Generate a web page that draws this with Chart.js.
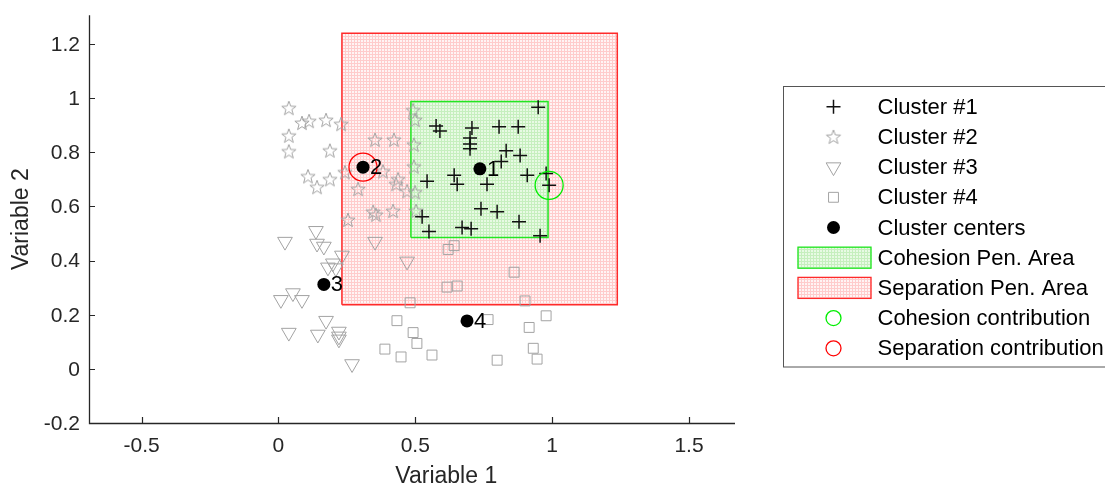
<!DOCTYPE html>
<html>
<head>
<meta charset="utf-8">
<title>Cluster penalties</title>
<script src="https://cdn.jsdelivr.net/npm/chart.js@4.4.1/dist/chart.umd.min.js"></script>
<style>
  html, body { margin: 0; padding: 0; background: #fff; }
  #wrap { width: 1105px; height: 490px; }
</style>
</head>
<body>
<div id="wrap"><canvas id="clusterChart" width="1105" height="490"></canvas></div>
<script>
// values
const cluster1X = [0.949, 0.576, 0.590, 0.707, 0.806, 0.876, 0.700, 0.700, 0.700, 0.832, 0.883, 0.814, 0.642, 0.653,
  0.543, 0.762, 0.909, 0.978, 0.989, 0.740, 0.799, 0.525, 0.550, 0.671, 0.704, 0.879, 0.956];
const cluster1Y = [0.966, 0.897, 0.879, 0.890, 0.894, 0.894, 0.853, 0.831, 0.813, 0.806, 0.788, 0.766, 0.715, 0.682,
  0.693, 0.682, 0.715, 0.722, 0.678, 0.591, 0.580, 0.562, 0.507, 0.522, 0.518, 0.543, 0.492];

const cluster2X = [0.038, 0.086, 0.112, 0.174, 0.229, 0.038, 0.038, 0.188, 0.353, 0.422, 0.492, 0.499, 0.495, 0.108,
  0.141, 0.188, 0.243, 0.291, 0.382, 0.437, 0.430, 0.470, 0.499, 0.495, 0.346, 0.356, 0.419, 0.254, 0.503];
const cluster2Y = [0.963, 0.908, 0.915, 0.919, 0.904, 0.861, 0.803, 0.806, 0.846, 0.846, 0.955, 0.919, 0.828, 0.711,
  0.671, 0.700, 0.726, 0.664, 0.729, 0.700, 0.682, 0.656, 0.652, 0.747, 0.580, 0.569, 0.583, 0.550, 0.583];

const cluster3X = [0.024, 0.137, 0.141, 0.166, 0.232, 0.199, 0.181, 0.210, 0.353, 0.470, 0.009, 0.053, 0.086, 0.174,
  0.038, 0.144, 0.221, 0.221, 0.221, 0.269];
const cluster3Y = [0.470, 0.510, 0.463, 0.452, 0.419, 0.390, 0.375, 0.372, 0.470, 0.397, 0.255, 0.280, 0.255, 0.178,
  0.134, 0.127, 0.138, 0.120, 0.109, 0.018];

const cluster4X = [0.642, 0.620, 0.861, 0.616, 0.653, 0.481, 0.901, 0.433, 0.766, 0.978, 0.916, 0.492, 0.506, 0.389,
  0.448, 0.561, 0.931, 0.945, 0.799];
const cluster4Y = [0.455, 0.441, 0.357, 0.302, 0.306, 0.244, 0.251, 0.178, 0.182, 0.196, 0.153, 0.134, 0.094, 0.073,
  0.044, 0.051, 0.076, 0.036, 0.032];

const centerX = [0.736, 0.309, 0.166, 0.689];
const centerY = [0.739, 0.745, 0.312, 0.177];
const centerNames = ['1', '2', '3', '4'];

const cohesionAreaX = [0.484, 0.985];
const cohesionAreaY = [0.485, 0.988];
const separationAreaX = [0.232, 1.238];
const separationAreaY = [0.237, 1.240];

const cohesionPointX = [0.989];
const cohesionPointY = [0.678];
const separationPointX = [0.309];
const separationPointY = [0.745];

const xTickValues = [-0.5, 0, 0.5, 1, 1.5];
const xTickLabels = ['-0.5', '0', '0.5', '1', '1.5'];
const yTickValues = [-0.2, 0, 0.2, 0.4, 0.6, 0.8, 1, 1.2];
const yTickLabels = ['-0.2', '0', '0.2', '0.4', '0.6', '0.8', '1', '1.2'];

const legendNames = ['Cluster #1', 'Cluster #2', 'Cluster #3', 'Cluster #4', 'Cluster centers',
  'Cohesion Pen. Area', 'Separation Pen. Area', 'Cohesion contribution', 'Separation contribution'];

const FONT = '"Liberation Sans", Arial, Helvetica, sans-serif';
const AXIS_COLOR = '#262626';
const GRAY = '#a3a3a3';

const zip = (xs, ys) => xs.map((x, i) => ({ x, y: ys[i] }));
const boxOutline = (xs, ys) => [
  { x: xs[0], y: ys[0] }, { x: xs[0], y: ys[1] }, { x: xs[1], y: ys[1] }, { x: xs[1], y: ys[0] }, { x: xs[0], y: ys[0] }
];

const canvas = document.getElementById('clusterChart');
const ctx = canvas.getContext('2d');

function makePattern(lineColor, holeColor) {
  const tile = document.createElement('canvas');
  tile.width = 3;
  tile.height = 3;
  const g = tile.getContext('2d');
  g.fillStyle = holeColor;
  g.fillRect(0, 0, 3, 3);
  g.fillStyle = lineColor;
  g.fillRect(0, 0, 3, 1);
  g.fillRect(0, 0, 1, 3);
  return ctx.createPattern(tile, 'repeat');
}

function makeStar(size, outer, inner, color) {
  const c = document.createElement('canvas');
  c.width = size;
  c.height = size;
  const g = c.getContext('2d');
  g.strokeStyle = color;
  g.lineWidth = 1;
  g.beginPath();
  for (let i = 0; i < 10; i++) {
    const r = i % 2 === 0 ? outer : inner;
    const a = -Math.PI / 2 + i * Math.PI / 5;
    const px = size / 2 + r * Math.cos(a);
    const py = size / 2 + 0.5 + r * Math.sin(a);
    if (i === 0) g.moveTo(px, py); else g.lineTo(px, py);
  }
  g.closePath();
  g.stroke();
  return c;
}

const redPattern = makePattern('#ffcccc', '#fff4f4');
const greenPattern = makePattern('#c6efbe', '#e8fae4');
const starImg = makeStar(20, 7.5, 3.1, GRAY);

const pointDefaults = { showLine: false, order: 0 };

const datasets = [
  { ...pointDefaults, label: legendNames[7], data: zip(cohesionPointX, cohesionPointY),
    pointStyle: 'circle', pointRadius: 14, pointBorderColor: '#00ee00', pointBackgroundColor: 'rgba(0,0,0,0)', pointBorderWidth: 1.3 },
  { ...pointDefaults, label: legendNames[8], data: zip(separationPointX, separationPointY),
    pointStyle: 'circle', pointRadius: 14, pointBorderColor: '#ff0000', pointBackgroundColor: 'rgba(0,0,0,0)', pointBorderWidth: 1.3 },
  { ...pointDefaults, label: legendNames[4], data: zip(centerX, centerY),
    pointStyle: 'circle', pointRadius: 6.5, pointBorderColor: '#000', pointBackgroundColor: '#000', pointBorderWidth: 0 },
  { ...pointDefaults, label: legendNames[0], data: zip(cluster1X, cluster1Y),
    pointStyle: 'cross', pointRadius: 7, pointBorderColor: '#111', pointBackgroundColor: '#111', pointBorderWidth: 1.5 },
  { ...pointDefaults, label: legendNames[1], data: zip(cluster2X, cluster2Y),
    pointStyle: starImg, pointRadius: 7, pointBorderColor: GRAY, pointBackgroundColor: 'rgba(0,0,0,0)', pointBorderWidth: 1 },
  { ...pointDefaults, label: legendNames[2], data: zip(cluster3X, cluster3Y),
    pointStyle: 'triangle', pointRotation: 180, pointRadius: 8.5, pointBorderColor: GRAY, pointBackgroundColor: 'rgba(0,0,0,0)', pointBorderWidth: 1 },
  { ...pointDefaults, label: legendNames[3], data: zip(cluster4X, cluster4Y),
    pointStyle: 'rect', pointRadius: 7, pointBorderColor: GRAY, pointBackgroundColor: 'rgba(0,0,0,0)', pointBorderWidth: 1 },
  // cohesion area: fill + outline
  { type: 'line', label: legendNames[5], order: 3, data: boxOutline(cohesionAreaX, cohesionAreaY),
    borderColor: '#22e622', borderWidth: 1.5, pointRadius: 0, tension: 0, fill: false },
  { type: 'line', label: legendNames[5] + ' fill', order: 4,
    data: [{ x: cohesionAreaX[0], y: cohesionAreaY[1] }, { x: cohesionAreaX[1], y: cohesionAreaY[1] }],
    borderWidth: 0, borderColor: 'rgba(0,0,0,0)', pointRadius: 0, backgroundColor: greenPattern, fill: { value: cohesionAreaY[0] } },
  // separation area: fill + outline
  { type: 'line', label: legendNames[6], order: 5, data: boxOutline(separationAreaX, separationAreaY),
    borderColor: '#ff2a2a', borderWidth: 1.5, pointRadius: 0, tension: 0, fill: false },
  { type: 'line', label: legendNames[6] + ' fill', order: 6,
    data: [{ x: separationAreaX[0], y: separationAreaY[1] }, { x: separationAreaX[1], y: separationAreaY[1] }],
    borderWidth: 0, borderColor: 'rgba(0,0,0,0)', pointRadius: 0, backgroundColor: redPattern, fill: { value: separationAreaY[0] } }
];

// legend entries: which dataset each line takes its look from
const legendSources = [3, 4, 5, 6, 2, 8, 10, 0, 1];

function drawMarker(g, ds, x, y, radius) {
  g.save();
  g.strokeStyle = ds.pointBorderColor;
  g.fillStyle = ds.pointBackgroundColor;
  g.lineWidth = ds.pointBorderWidth;
  Chart.helpers.drawPoint(g, {
    pointStyle: ds.pointStyle,
    rotation: ds.pointRotation || 0,
    radius: radius,
    borderWidth: ds.pointBorderWidth
  }, x, y);
  g.restore();
}

// MATLAB style box-less axes: axis lines, inward ticks, labels, titles, center numbers, legend
const matlabLook = {
  id: 'matlabLook',
  afterDatasetsDraw(chart) {
    const g = chart.ctx;
    const xs = chart.scales.x, ys = chart.scales.y;
    g.save();
    g.font = '22px ' + FONT;
    g.fillStyle = '#000';
    g.textBaseline = 'middle';
    g.textAlign = 'left';
    centerNames.forEach((name, i) => {
      g.fillText(name, xs.getPixelForValue(centerX[i]) + 7, ys.getPixelForValue(centerY[i]) + 1);
    });
    g.restore();
  },
  afterDraw(chart) {
    const g = chart.ctx;
    const area = chart.chartArea;
    const xs = chart.scales.x, ys = chart.scales.y;
    g.save();

    // axis lines
    g.strokeStyle = AXIS_COLOR;
    g.lineWidth = 1.3;
    g.beginPath();
    g.moveTo(area.left + 0.5, area.top);
    g.lineTo(area.left + 0.5, area.bottom + 0.5);
    g.lineTo(area.right, area.bottom + 0.5);
    g.stroke();

    // inward tick marks
    g.lineWidth = 1.2;
    g.beginPath();
    xTickValues.forEach(v => {
      const px = Math.round(xs.getPixelForValue(v)) + 0.5;
      g.moveTo(px, area.bottom);
      g.lineTo(px, area.bottom - 6);
    });
    yTickValues.forEach(v => {
      const py = Math.round(ys.getPixelForValue(v)) + 0.5;
      g.moveTo(area.left, py);
      g.lineTo(area.left + 6, py);
    });
    g.stroke();

    // tick labels
    g.fillStyle = AXIS_COLOR;
    g.font = '21px ' + FONT;
    g.textBaseline = 'middle';
    g.textAlign = 'center';
    xTickValues.forEach((v, i) => g.fillText(xTickLabels[i], xs.getPixelForValue(v), area.bottom + 23));
    g.textAlign = 'right';
    yTickValues.forEach((v, i) => g.fillText(yTickLabels[i], area.left - 9, ys.getPixelForValue(v) + 1));

    // axis titles
    g.font = '23px ' + FONT;
    g.textAlign = 'center';
    g.fillText('Variable 1', area.left + (area.right - area.left) * 0.553, area.bottom + 54);
    g.save();
    g.translate(22, (area.top + area.bottom) / 2);
    g.rotate(-Math.PI / 2);
    g.fillText('Variable 2', 0, 0);
    g.restore();

    // legend (box runs past the right edge of the picture)
    const boxLeft = area.right + 48.5;
    const boxTop = 86.5;
    const rowH = 30.2;
    const firstRow = 106.7;
    const markX = boxLeft + 50;
    const textX = boxLeft + 94;
    g.strokeStyle = '#555';
    g.lineWidth = 1;
    g.strokeRect(boxLeft, boxTop, 360, 280.5);
    g.font = '22px ' + FONT;
    g.textAlign = 'left';
    legendNames.forEach((name, i) => {
      const y = firstRow + i * rowH;
      const ds = datasets[legendSources[i]];
      if (i === 5 || i === 6) {
        const outline = datasets[legendSources[i] - 1];
        g.fillStyle = ds.backgroundColor;
        g.fillRect(boxLeft + 14, y - 11, 74, 22);
        g.strokeStyle = outline.borderColor;
        g.lineWidth = 1.3;
        g.strokeRect(boxLeft + 14.5, y - 10.5, 73, 21);
      } else {
        const r = (i === 7 || i === 8) ? 7.5 : ds.pointRadius;
        drawMarker(g, ds, markX, y, r);
      }
      g.fillStyle = '#000';
      g.fillText(name, textX, y + 1);
    });
    g.restore();
  }
};

new Chart(ctx, {
  type: 'scatter',
  data: { datasets },
  options: {
    responsive: false,
    animation: false,
    devicePixelRatio: 1,
    events: [],
    // plot box: left 89, top 10, right 735, bottom 423
    layout: { padding: { top: 10, right: 370, left: 89, bottom: 67 } },
    plugins: {
      legend: { display: false },
      tooltip: { enabled: false }
    },
    scales: {
      x: { type: 'linear', display: false, min: -0.692, max: 1.668 },
      y: { type: 'linear', display: false, min: -0.2, max: 1.306 }
    }
  },
  plugins: [matlabLook]
});
</script>
</body>
</html>
